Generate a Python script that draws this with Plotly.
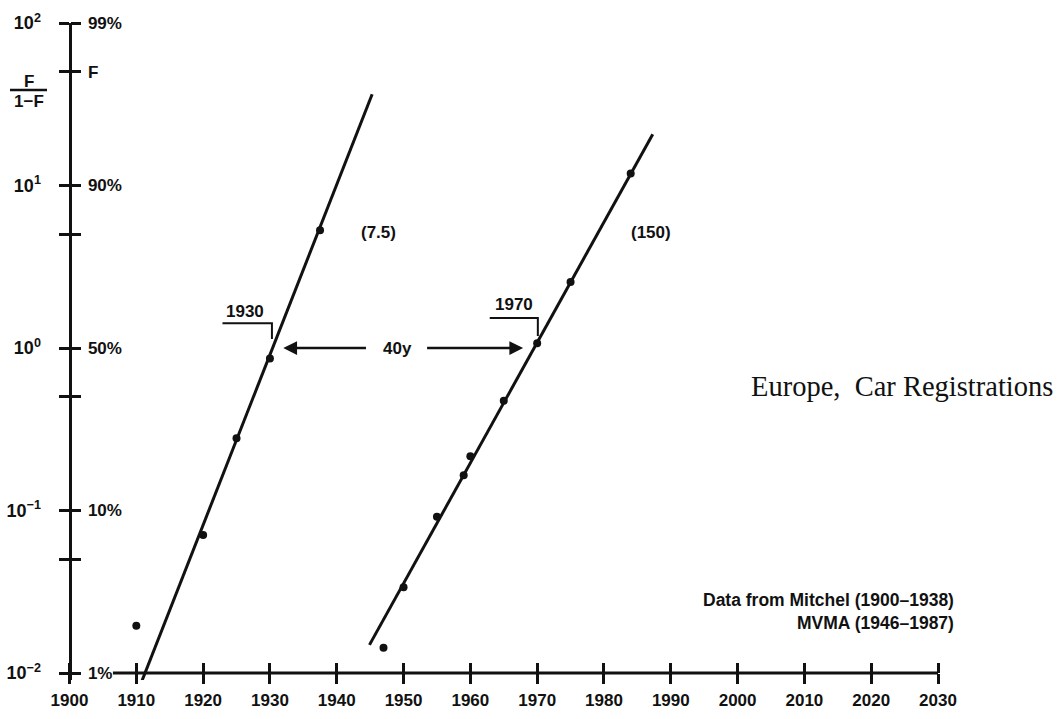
import plotly.graph_objects as go
import math

# ---------------- data ----------------
left_years = [1910, 1920, 1925, 1930, 1937.5]
left_values = [0.0195, 0.0707, 0.278, 0.863, 5.31]
right_years = [1947, 1950, 1955, 1959, 1960, 1965, 1970, 1975, 1984]
right_values = [0.0143, 0.0337, 0.0916, 0.165, 0.216, 0.473, 1.07, 2.55, 11.85]
left_fit_years = [1910.8, 1945.3]
left_fit_values = [0.00885, 36.4]
right_fit_years = [1944.9, 1987.3]
right_fit_values = [0.0149, 20.7]

x_tick_years = list(range(1900, 2031, 10))
x_tick_labels = [str(v) for v in x_tick_years]
y_left_values = [0.01, 0.1, 1, 10, 100]
y_left_labels = ["10<sup>−2</sup>", "10<sup>−1</sup>", "10<sup>0</sup>",
                 "10<sup>1</sup>", "10<sup>2</sup>"]
y_left_minor = [0.05, 0.5, 5, 50]
y_right_values = [0.01, 0.1, 1, 10, 50, 100]
y_right_labels = ["1%", "10%", "50%", "90%", "F", "99%"]
y_right_minor = [0.05, 0.5, 5]

label_1930_x = [1922.9, 1930.3, 1930.3]
label_1930_y = [1.42, 1.42, 1.135]
label_1970_x = [1962.9, 1970.1, 1970.1]
label_1970_y = [1.53, 1.53, 1.185]

# ---------------- geometry ----------------
W, H = 1061, 719
ML, MR, MT, MB = 5, 121, 23, 39
PW = W - ML - MR
PH = H - MT - MB
X_AT_1900 = 69.5
PX_PER_YEAR = 6.681
x0 = 1900 - (X_AT_1900 - ML) / PX_PER_YEAR
x1 = x0 + PW / PX_PER_YEAR
PX_PER_DECADE = 162.5
y_range = [2 - PH / PX_PER_DECADE, 2]
yaxis_pos = (X_AT_1900 - ML) / PW
xaxis_pos = (-2 - y_range[0]) / (y_range[1] - y_range[0])


def px(xp):
    return (xp - ML) / PW


def py(yp):
    return (H - MB - yp) / PH


INK = "#111111"
FAM = "Liberation Sans, Arial, sans-serif"
bold_font = dict(family=FAM, size=17, color=INK, weight="bold")
ylab_font = dict(family=FAM, size=18, color=INK, weight="bold")

fig = go.Figure()

fig.add_trace(go.Scatter(x=left_fit_years, y=left_fit_values, mode="lines",
                         line=dict(color=INK, width=3), hoverinfo="skip"))
fig.add_trace(go.Scatter(x=right_fit_years, y=right_fit_values, mode="lines",
                         line=dict(color=INK, width=3), hoverinfo="skip"))
fig.add_trace(go.Scatter(x=left_years, y=left_values, mode="markers",
                         marker=dict(color=INK, size=8), cliponaxis=False))
fig.add_trace(go.Scatter(x=right_years, y=right_values, mode="markers",
                         marker=dict(color=INK, size=8), cliponaxis=False))
fig.add_trace(go.Scatter(x=label_1930_x, y=label_1930_y, mode="lines",
                         line=dict(color=INK, width=2), hoverinfo="skip"))
fig.add_trace(go.Scatter(x=label_1970_x, y=label_1970_y, mode="lines",
                         line=dict(color=INK, width=2), hoverinfo="skip"))
# invisible trace that carries the overlay axes (second tick sides)
fig.add_trace(go.Scatter(x=[2000], y=[1], xaxis="x2", yaxis="y2", mode="markers",
                         marker=dict(opacity=0), hoverinfo="skip"))

tick_common = dict(ticks="outside", ticklen=10, tickwidth=2.5, tickcolor=INK,
                   showgrid=False, zeroline=False, automargin=False)


def minor_ticks(vals):
    return dict(tickmode="array", tickvals=vals, ticks="outside", ticklen=10,
                tickwidth=2.5, tickcolor=INK, showgrid=False)


fig.update_layout(
    template="none",
    width=W, height=H,
    margin=dict(l=ML, r=MR, t=MT, b=MB, autoexpand=False),
    paper_bgcolor="white", plot_bgcolor="white",
    showlegend=False, hovermode=False,
    xaxis=dict(range=[x0, x1], anchor="free", position=xaxis_pos, showline=False,
               tickmode="array", tickvals=x_tick_years, ticktext=x_tick_labels,
               tickfont=dict(family=FAM, size=17, color=INK, weight="bold"),
               ticklabelstandoff=2, **tick_common),
    xaxis2=dict(range=[x0, x1], overlaying="x", anchor="free", position=xaxis_pos,
                showline=False, tickmode="array", tickvals=x_tick_years,
                showticklabels=False, ticks="inside", ticklen=10, tickwidth=2.5,
                tickcolor=INK, showgrid=False, zeroline=False, automargin=False),
    yaxis=dict(type="log", range=y_range, anchor="free", position=yaxis_pos, side="left",
               showline=True, linewidth=3, linecolor=INK,
               tickmode="array", tickvals=y_left_values, ticktext=y_left_labels,
               minor=minor_ticks(y_left_minor),
               tickfont=ylab_font, ticklabelstandoff=14, **tick_common),
    yaxis2=dict(type="log", range=y_range, overlaying="y", anchor="free", position=yaxis_pos,
                side="right", showline=False,
                tickmode="array", tickvals=y_right_values, ticktext=y_right_labels,
                minor=minor_ticks(y_right_minor),
                tickfont=bold_font, ticklabelstandoff=4, **tick_common),
)

# x axis line (starts right after the "1%" label)
fig.add_shape(type="line", xref="x", yref="paper", x0=1906.5, x1=2030,
              y0=xaxis_pos, y1=xaxis_pos, line=dict(color=INK, width=3))

# F / (1-F) label on the left
fig.add_shape(type="line", xref="paper", yref="paper", x0=px(10), x1=px(47),
              y0=py(90), y1=py(90), line=dict(color=INK, width=2.5))
fig.add_annotation(x=px(29), y=py(81), xref="paper", yref="paper", text="F",
                   xanchor="center", yanchor="middle", showarrow=False, font=bold_font)
fig.add_annotation(x=px(29), y=py(101), xref="paper", yref="paper", text="1−F",
                   xanchor="center", yanchor="middle", showarrow=False, font=bold_font)

# 40y arrows
fig.add_annotation(x=1932.0, y=0, ax=1944.6, ay=0, xref="x", yref="y", axref="x", ayref="y",
                   text="", showarrow=True, arrowhead=2, arrowsize=1.1, arrowwidth=2.5,
                   arrowcolor=INK)
fig.add_annotation(x=1967.9, y=0, ax=1953.3, ay=0, xref="x", yref="y", axref="x", ayref="y",
                   text="", showarrow=True, arrowhead=2, arrowsize=1.1, arrowwidth=2.5,
                   arrowcolor=INK)

data_labels = [
    (1949.1, 0.0, "40y"),
    (1926.3, 0.225, "1930"),
    (1966.5, 0.265, "1970"),
    (1946.3, math.log10(5.17), "(7.5)"),
    (1987.1, math.log10(5.17), "(150)"),
]
for lx, ly, lt in data_labels:
    fig.add_annotation(x=lx, y=ly, xref="x", yref="y", text=lt, showarrow=False,
                       xanchor="center", yanchor="middle", font=bold_font)

fig.add_annotation(x=px(901.5), y=py(386), xref="paper", yref="paper",
                   xanchor="center", yanchor="middle",
                   text="Europe,&nbsp; Car Registrations", showarrow=False,
                   font=dict(family="Liberation Serif, Times New Roman, serif", size=28.5, color=INK))
fig.add_annotation(x=px(956), y=py(600), xref="paper", yref="paper",
                   xanchor="right", yanchor="middle",
                   text="Data from Mitchel (1900–1938)", showarrow=False,
                   font=dict(family=FAM, size=17.5, color=INK, weight="bold"))
fig.add_annotation(x=px(956), y=py(623), xref="paper", yref="paper",
                   xanchor="right", yanchor="middle",
                   text="MVMA (1946–1987)", showarrow=False,
                   font=dict(family=FAM, size=17.5, color=INK, weight="bold"))

fig.write_html("out.html", config={"displayModeBar": False},
               post_script="document.body.style.margin='0';")
